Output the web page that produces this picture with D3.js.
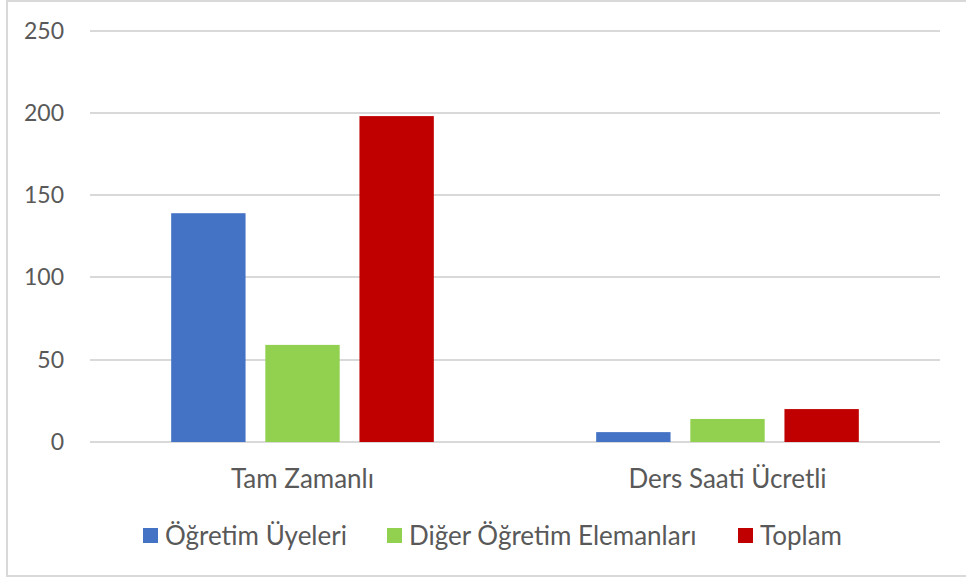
<!DOCTYPE html>
<html lang="tr">
<head>
<meta charset="utf-8">
<title>Personel grafiği</title>
<script src="https://d3js.org/d3.v7.min.js"></script>
<style>
  body { margin: 0; background: #fff; }
  text { font-family: Lato, "Noto Sans", sans-serif; fill: #595959; }
</style>
</head>
<body>
<div id="chart"></div>
<script>
var categories = ["Tam Zamanlı", "Ders Saati Ücretli"];
var seriesNames = ["Öğretim Üyeleri", "Diğer Öğretim Elemanları", "Toplam"];
var ogretimUyeleri = [139, 6];
var digerElemanlar = [59, 14];
var toplam = [198, 20];
var yTicks = [0, 50, 100, 150, 200, 250];
var colors = ["#4472c4", "#92d050", "#c00000"];

var w = 966, h = 583;
var plotLeft = 90, plotRight = 940, plotTop = 30.5, plotBottom = 442;

var svg = d3.select("#chart").append("svg")
  .attr("width", w)
  .attr("height", h);

// chart frame
svg.append("rect")
  .attr("x", 7).attr("y", 1)
  .attr("width", w + 10).attr("height", 575)
  .attr("fill", "none")
  .attr("stroke", "#d9d9d9")
  .attr("stroke-width", 2);

var yScale = d3.scaleLinear().domain([0, 250]).range([plotBottom, plotTop]);

var x0 = d3.scaleBand().domain(categories).range([plotLeft, plotRight])
  .paddingInner(0.382).paddingOuter(0.191);
var x1 = d3.scaleBand().domain(seriesNames).range([0, x0.bandwidth()])
  .paddingInner(0.21);

// gridlines
svg.append("g").selectAll("line")
  .data(yTicks)
  .enter().append("line")
  .attr("x1", plotLeft).attr("x2", plotRight)
  .attr("y1", function(d){ return Math.round(yScale(d)); })
  .attr("y2", function(d){ return Math.round(yScale(d)); })
  .attr("stroke", "#d9d9d9")
  .attr("stroke-width", 2);

// y labels
svg.append("g").selectAll("text")
  .data(yTicks)
  .enter().append("text")
  .attr("x", 64)
  .attr("y", function(d){ return yScale(d); })
  .attr("dy", "0.35em")
  .attr("text-anchor", "end")
  .style("font-size", "23px")
  .text(function(d){ return d; });

// bars
var dataset = [];
var values = [ogretimUyeleri, digerElemanlar, toplam];
categories.forEach(function(c, i){
  seriesNames.forEach(function(s, j){
    dataset.push({cat: c, ser: s, val: values[j][i], color: colors[j]});
  });
});

svg.append("g").selectAll("rect")
  .data(dataset)
  .enter().append("rect")
  .attr("x", function(d){ return x0(d.cat) + x1(d.ser); })
  .attr("y", function(d){ return yScale(d.val); })
  .attr("width", x1.bandwidth())
  .attr("height", function(d){ return plotBottom - yScale(d.val); })
  .attr("fill", function(d){ return d.color; });

// category labels
svg.append("g").selectAll("text")
  .data(categories)
  .enter().append("text")
  .attr("x", function(d){ return x0(d) + x0.bandwidth() / 2; })
  .attr("y", 488)
  .attr("text-anchor", "middle")
  .style("font-size", "26px")
  .text(function(d){ return d; });

// legend
var legendX = [143, 387, 738];
var legend = svg.append("g").selectAll("g")
  .data(seriesNames)
  .enter().append("g")
  .attr("transform", function(d, i){ return "translate(" + legendX[i] + ",528)"; });
legend.append("rect")
  .attr("width", 15).attr("height", 15)
  .attr("fill", function(d, i){ return colors[i]; });
legend.append("text")
  .attr("x", 22).attr("y", 17)
  .style("font-size", "26px")
  .text(function(d){ return d; });
</script>
</body>
</html>
